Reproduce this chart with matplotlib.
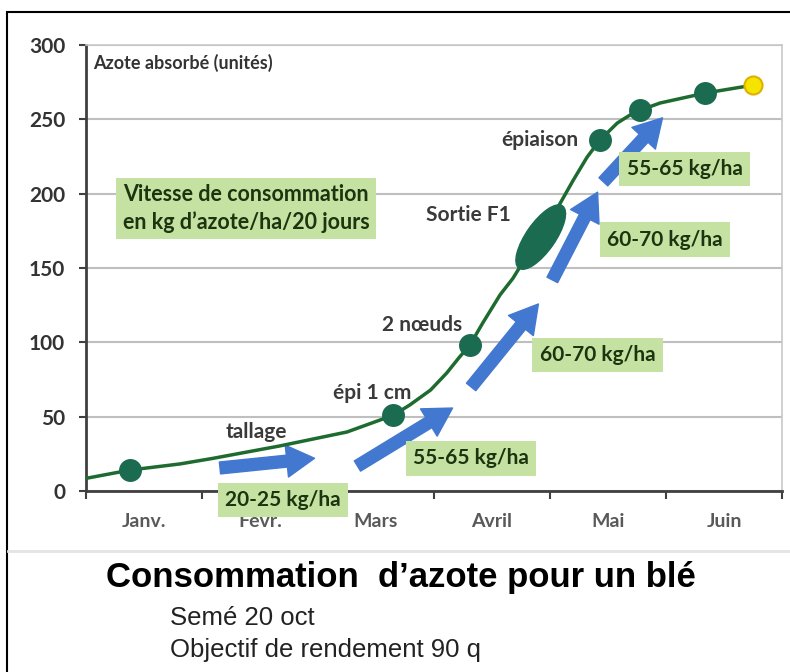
"""Consommation d'azote pour un blé - recreated chart."""
import matplotlib
matplotlib.use("Agg")
import matplotlib.pyplot as plt
from matplotlib import transforms
from matplotlib.patches import Ellipse, Rectangle

# categories (months), shown between the major ticks
months = ["Janv.", "Févr.", "Mars", "Avril", "Mai", "Juin"]
yticks = [0, 50, 100, 150, 200, 250, 300]

# absorbed nitrogen curve (x in month units, y in units)
curve_x = [0.0, 0.38, 0.81, 1.09, 1.67, 2.25, 2.65, 2.79, 2.97, 3.11, 3.22, 3.31, 3.42,
           3.57, 3.68, 3.74, 3.92, 4.03, 4.20, 4.32, 4.43, 4.58, 4.69, 4.78, 4.95, 5.34, 5.75]
curve_y = [8.5, 14.1, 18.2, 21.9, 30.3, 39.7, 51, 57.8, 67.9, 79.4, 90.1, 98.2, 113,
           132, 143, 150.6, 170.8, 185.6, 209, 224.6, 236, 247.5, 252.9, 256.2, 261, 267.7, 273]

# growth stage markers
stage_x = [0.38, 2.65, 3.31, 4.43, 4.78, 5.34]
stage_y = [14.1, 51, 98.2, 236, 256.2, 267.7]
end_x, end_y = 5.75, 273
f1_x, f1_y = 3.92, 170.8

stage_labels = ["tallage", "épi 1 cm", "2 nœuds", "Sortie F1", "épiaison"]
stage_label_x = [1.47, 2.47, 2.90, 3.30, 3.91]
stage_label_y = [40, 66, 111.6, 185.6, 236]

# consumption speed arrows (tail -> tip) and their labels
arrow_tail_x = [1.155, 2.34, 3.32, 4.02, 4.46]
arrow_tail_y = [15.5, 16.8, 70, 142, 208]
arrow_tip_x = [1.97, 3.16, 3.90, 4.41, 4.97]
arrow_tip_y = [22, 55.8, 125.8, 201, 251]

rate_labels = ["20-25 kg/ha", "55-65 kg/ha", "60-70 kg/ha", "60-70 kg/ha", "55-65 kg/ha"]
rate_x = [1.70, 3.32, 4.41, 4.99, 5.16]
rate_y = [-6, 22, 91.5, 169, 216.5]

FONT = ["Lato", "DejaVu Sans"]
ARIAL = ["Liberation Sans", "DejaVu Sans"]
BOX_GREEN = "#c6e2a3"
ARROW_BLUE = "#4278d0"

fig = plt.figure(figsize=(7.9, 6.72), dpi=100)
ax = fig.add_axes([86 / 790, (672 - 491) / 672, (782 - 86) / 790, (491 - 45) / 672])

ax.set_xlim(0, 6)
ax.set_ylim(0, 300)
ax.set_yticks(yticks)
ax.set_yticklabels([str(v) for v in yticks], fontsize=15, fontweight="bold",
                   color="#333333", family=FONT)
ax.set_xticks(range(7))
ax.set_xticklabels([])
ax.set_xticks([i + 0.5 for i in range(6)], minor=True)
ax.set_xticklabels(months, minor=True, fontsize=14, fontweight="bold",
                   color="#595959", family=FONT)
ax.tick_params(axis="x", which="minor", length=0, pad=16)
ax.tick_params(axis="x", which="major", length=6, width=1.5, color="#404040")
ax.tick_params(axis="y", length=5, width=1.5, color="#404040", pad=10)
ax.grid(axis="y", color="#bfbfbf", lw=1.5)
ax.set_axisbelow(True)
for s in ["top", "right"]:
    ax.spines[s].set_color("#c8c8c8")
    ax.spines[s].set_linewidth(1.2)
for s in ["left", "bottom"]:
    ax.spines[s].set_color("#404040")
    ax.spines[s].set_linewidth(2)

ax.text(0.06, 288, "Azote absorbé (unités)", fontsize=13, fontweight="bold",
        color="#333333", family=FONT, va="center", ha="left")

# arrows under the label boxes
for tx, ty, hx, hy in zip(arrow_tail_x, arrow_tail_y, arrow_tip_x, arrow_tip_y):
    ax.annotate("", xy=(hx, hy), xytext=(tx, ty),
                arrowprops=dict(arrowstyle="simple,head_width=1.15,head_length=1.0,tail_width=0.43",
                                color=ARROW_BLUE, mutation_scale=20, shrinkA=0, shrinkB=0),
                zorder=3, annotation_clip=False)

# curve and stages
ax.plot(curve_x, curve_y, color="#1e6b30", lw=2.5, zorder=4, solid_joinstyle="round")
ax.plot(stage_x, stage_y, "o", ms=15.5, color="#1a6b50", zorder=5)
ax.plot([end_x], [end_y], "o", ms=13, mfc="#f5e400", mec="#e0b000", mew=1.5, zorder=5)
ell_tr = fig.dpi_scale_trans + transforms.ScaledTranslation(f1_x, f1_y, ax.transData)
ax.add_patch(Ellipse((0, 0), 0.76, 0.29, angle=55, color="#1a6b50",
                     transform=ell_tr, zorder=5))

for lab, lx, ly in zip(stage_labels, stage_label_x, stage_label_y):
    ax.text(lx, ly, lab, fontsize=15, fontweight="bold", color="#3a3a3a",
            family=FONT, ha="center", va="center", zorder=6)

box = dict(boxstyle="square,pad=0.35", fc=BOX_GREEN, ec="none")
for lab, lx, ly in zip(rate_labels, rate_x, rate_y):
    ax.text(lx, ly, lab, fontsize=15, fontweight="bold", color="#1c3510",
            family=FONT, ha="center", va="center", bbox=box, zorder=7, clip_on=False)

ax.text(1.38, 190, "Vitesse de consommation\nen kg d’azote/ha/20 jours", fontsize=15.5,
        fontweight="bold", color="#1c3510", family=FONT, ha="center", va="center",
        linespacing=1.3, bbox=dict(boxstyle="square,pad=0.3", fc=BOX_GREEN, ec="none"),
        zorder=7)

# caption under the chart image
fig.add_artist(plt.Line2D([8 / 790, 1], [1 - 551 / 672] * 2, color="#e4e4e4", lw=2))
fig.text(401 / 790, 1 - 587 / 672, "Consommation  d’azote pour un blé", fontsize=25,
         fontweight="bold", family=ARIAL, ha="center", va="baseline")
fig.text(170 / 790, 1 - 625 / 672, "Semé 20 oct", fontsize=18.5,
         family=ARIAL, ha="left", va="baseline", color="#222222")
fig.text(170 / 790, 1 - 657 / 672, "Objectif de rendement 90 q", fontsize=18.5,
         family=ARIAL, ha="left", va="baseline", color="#222222")

# outer frame
fig.add_artist(Rectangle((7 / 790, -0.05), 1.0, 1 - 12 / 672 + 0.05, transform=fig.transFigure,
                         fill=False, ec="black", lw=1.5))

fig.savefig("out.png", dpi=100)
